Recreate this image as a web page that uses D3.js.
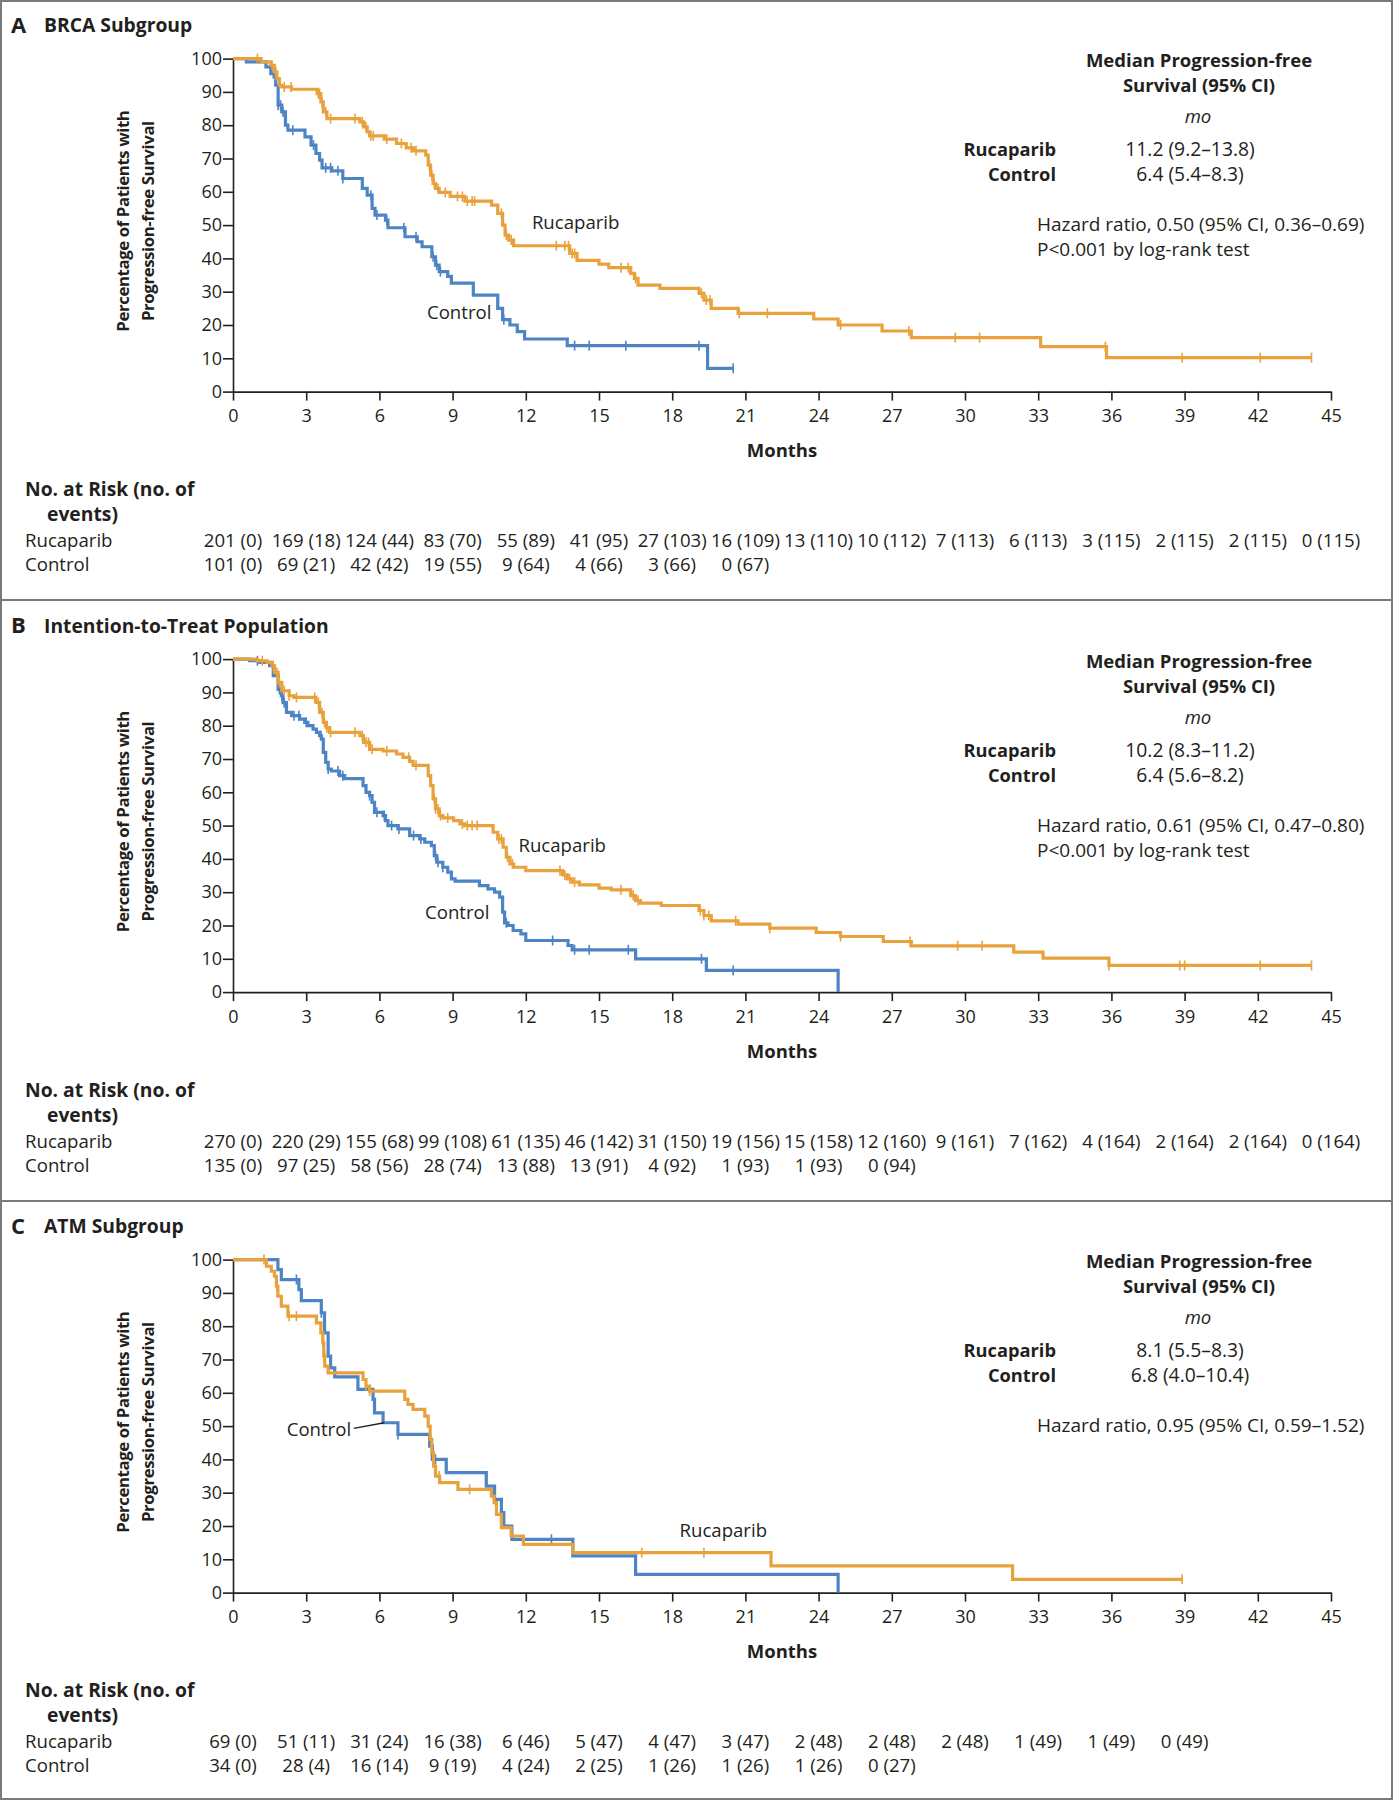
<!DOCTYPE html>
<html><head><meta charset="utf-8">
<script src="https://cdn.jsdelivr.net/npm/d3@7"></script>
<style>
body{margin:0;background:#fff}
text{font-family:"Open Sans",sans-serif;fill:#231f20}
</style>
</head><body>
<svg id="chart" width="1393" height="1800"></svg>
<script>
// ---------- shared ticks ----------
const monthTicks = d3.range(0, 46, 3);
const pctTicks = d3.range(0, 101, 10);
const riskMonths = d3.range(0, 46, 3);

// ---------- Panel A: BRCA subgroup ----------
const brcaRucaparibSteps = [[0,100],[1.15,99],[1.55,98],[1.7,96],[1.8,94],[1.9,92],[2.0,91.5],[2.4,90.8],[3.45,89.5],[3.6,87],[3.7,84],[3.85,82],[5.2,81],[5.35,79.5],[5.5,78],[5.6,76.8],[6.2,75.8],[6.7,74.5],[7.1,73.2],[7.4,72.3],[7.9,71],[8.0,68],[8.1,65],[8.2,62.5],[8.3,61],[8.45,59.8],[8.9,58.6],[9.5,57.2],[10.6,56],[10.85,53.5],[11.05,50],[11.15,47],[11.3,45.5],[11.5,43.8],[13.8,41.5],[14.1,39.4],[15.0,38.3],[15.4,37.2],[16.3,35.5],[16.45,34],[16.6,32],[17.5,31],[19.1,29.5],[19.3,27.5],[19.6,25],[20.7,23.5],[23.8,21.8],[24.8,20],[26.6,18.2],[27.8,16.2],[33.1,13.5],[35.8,10.2],[44.2,10.2]];
const brcaRucaparibCensor = [1.0,1.6,1.75,2.1,2.38,3.5,3.55,3.65,3.8,4.0,5.0,5.3,5.45,5.65,5.75,6.3,6.9,7.3,7.5,8.05,8.15,8.25,8.4,8.7,9.2,9.4,9.6,9.8,9.9,11.0,11.2,11.4,13.25,13.6,13.75,13.9,14.0,15.9,16.2,16.5,19.2,19.4,19.55,20.75,21.9,24.9,27.7,29.6,30.6,35.75,38.9,42.1,44.2];
const brcaControlSteps = [[0,100],[0.55,99],[1.35,97.5],[1.55,95.5],[1.75,92],[1.85,86],[2.0,84],[2.15,80],[2.25,78.5],[2.95,76.5],[3.2,74],[3.4,71.5],[3.55,69.5],[3.65,67.2],[4.05,66.3],[4.5,64],[5.3,61],[5.5,59],[5.7,55],[5.82,53],[6.25,51.5],[6.35,49.2],[7.05,46.5],[7.55,45],[7.75,43.5],[8.15,40.5],[8.3,38],[8.45,36],[8.8,34.6],[8.95,32.6],[9.85,29],[10.85,25],[11.05,21.6],[11.35,20],[11.65,18],[11.95,15.8],[13.7,13.8],[19.45,7],[20.5,7]];
const brcaControlCensor = [1.65,1.85,1.95,2.05,2.45,3.3,3.8,4.0,4.3,4.5,5.65,5.9,6.3,7.0,7.5,8.2,8.35,8.5,11.1,14.0,14.6,16.1,19.1,20.5];
const brcaRiskRucaparib = ["201 (0)","169 (18)","124 (44)","83 (70)","55 (89)","41 (95)","27 (103)","16 (109)","13 (110)","10 (112)","7 (113)","6 (113)","3 (115)","2 (115)","2 (115)","0 (115)"];
const brcaRiskControl = ["101 (0)","69 (21)","42 (42)","19 (55)","9 (64)","4 (66)","3 (66)","0 (67)"];
const brcaMedians = ["11.2 (9.2\u201313.8)","6.4 (5.4\u20138.3)"];
const brcaStats = ["Hazard ratio, 0.50 (95% CI, 0.36\u20130.69)","P<0.001 by log-rank test"];

// ---------- Panel B: intention-to-treat ----------
const ittRucaparibSteps = [[0,100],[1.0,99.5],[1.4,99],[1.6,98],[1.7,96],[1.85,93],[2.0,90.5],[2.3,89],[2.5,88.5],[3.4,87],[3.55,84],[3.7,81],[3.83,79.4],[3.96,78],[5.2,77],[5.35,75],[5.6,72.9],[6.15,72.4],[6.7,71.5],[6.97,70.5],[7.24,69.3],[7.38,68.1],[8.0,65],[8.1,62],[8.2,58],[8.3,55],[8.45,53],[8.6,52.3],[9.04,51.5],[9.3,50.5],[9.5,50],[10.66,48],[10.85,46],[11.07,43.5],[11.2,40.5],[11.35,38.5],[11.5,37.5],[12.0,36.5],[13.5,35.2],[13.7,34],[13.9,33],[14.2,32.2],[15.0,31.2],[15.5,30.7],[16.3,29],[16.5,27.5],[16.7,26.7],[17.55,26],[19.1,24.5],[19.3,23],[19.6,21.4],[20.7,20.4],[22.0,19.2],[23.9,17.9],[24.9,16.7],[26.65,15.2],[27.8,13.9],[32.0,12.0],[33.2,10.2],[35.9,8.0],[44.2,8.0]];
const ittRucaparibCensor = [1.2,1.65,1.8,1.9,2.1,2.3,2.6,3.35,3.5,3.65,3.75,3.85,4.0,5.0,5.3,5.45,5.55,5.7,6.3,7.2,7.5,8.25,8.3,8.4,8.5,8.8,9.4,9.6,9.8,10.0,10.9,11.0,11.25,11.45,13.4,13.6,13.8,14.0,15.9,16.4,16.6,19.15,19.3,19.5,20.6,22.0,24.9,27.75,29.7,30.7,35.9,38.8,39.0,42.1,44.2];
const ittControlSteps = [[0,100],[0.68,99.5],[1.1,99],[1.5,98],[1.65,95],[1.85,90.9],[1.98,89],[2.05,86.9],[2.19,84],[2.4,83],[2.73,82],[2.94,81],[3.07,80],[3.28,79],[3.42,78],[3.55,77],[3.62,76],[3.7,72],[3.8,69],[3.9,67],[4.03,66.4],[4.37,65],[4.58,64.1],[5.33,62],[5.45,60],[5.6,59],[5.7,57],[5.8,54],[6.15,53],[6.25,51.5],[6.35,50],[6.76,49],[7.24,47],[7.65,46],[7.86,45],[8.13,44],[8.25,41],[8.35,39],[8.6,37.5],[8.8,36],[8.95,34],[9.1,33.3],[10.1,32],[10.45,31],[10.72,30],[10.93,28.5],[11.05,24],[11.13,20.8],[11.27,20],[11.48,18.5],[11.8,17.5],[12.0,15.5],[13.73,14],[13.9,12.7],[16.5,10.0],[19.4,6.5],[24.8,0],[24.8,0]];
const ittControlCensor = [1.0,1.9,2.0,2.1,2.5,2.7,3.0,3.6,3.9,4.3,4.5,5.6,5.9,6.2,6.5,6.8,7.4,7.7,8.3,8.4,8.6,11.2,13.1,14.0,14.6,16.2,19.2,20.5];
const ittRiskRucaparib = ["270 (0)","220 (29)","155 (68)","99 (108)","61 (135)","46 (142)","31 (150)","19 (156)","15 (158)","12 (160)","9 (161)","7 (162)","4 (164)","2 (164)","2 (164)","0 (164)"];
const ittRiskControl = ["135 (0)","97 (25)","58 (56)","28 (74)","13 (88)","13 (91)","4 (92)","1 (93)","1 (93)","0 (94)"];
const ittMedians = ["10.2 (8.3\u201311.2)","6.4 (5.6\u20138.2)"];
const ittStats = ["Hazard ratio, 0.61 (95% CI, 0.47\u20130.80)","P<0.001 by log-rank test"];

// ---------- Panel C: ATM subgroup ----------
const atmRucaparibSteps = [[0,100],[1.37,98],[1.57,96.5],[1.7,95],[1.78,92],[1.84,89],[1.98,86],[2.25,83],[3.42,81],[3.6,78],[3.68,75],[3.72,71],[3.76,68],[3.9,66],[5.33,64],[5.45,62],[5.6,60.5],[7.04,58],[7.17,56.5],[7.38,55],[7.86,53],[8.0,50],[8.08,46],[8.15,42],[8.22,38],[8.3,35],[8.47,33],[9.22,31],[10.59,29],[10.7,27],[10.8,23.5],[11.0,19.5],[11.4,17],[11.9,14.5],[13.93,12],[22.05,8],[31.95,4],[38.9,4]];
const atmRucaparibCensor = [1.27,1.8,2.3,2.6,3.7,3.75,5.45,5.6,8.45,9.7,16.75,19.3,38.9];
const atmControlSteps = [[0,100],[1.84,97],[1.98,94],[2.7,91],[2.8,87.7],[3.62,84],[3.75,78],[3.9,71],[4.0,67.5],[4.17,64.8],[5.12,61],[5.74,58],[5.8,54],[6.15,51],[6.76,47.5],[8.06,44],[8.17,40],[8.74,36],[10.38,32],[10.72,28],[11.0,24],[11.1,20],[11.43,16],[13.93,11],[16.5,5.5],[24.8,0],[24.8,0]];
const atmControlCensor = [2.6,3.62,6.76,8.3,13.05];
const atmRiskRucaparib = ["69 (0)","51 (11)","31 (24)","16 (38)","6 (46)","5 (47)","4 (47)","3 (47)","2 (48)","2 (48)","2 (48)","1 (49)","1 (49)","0 (49)"];
const atmRiskControl = ["34 (0)","28 (4)","16 (14)","9 (19)","4 (24)","2 (25)","1 (26)","1 (26)","1 (26)","0 (27)"];
const atmMedians = ["8.1 (5.5\u20138.3)","6.8 (4.0\u201310.4)"];
const atmStats = ["Hazard ratio, 0.95 (95% CI, 0.59\u20131.52)"];

// ---------- panel specs ----------
const panels = [
  {letter:"A", title:"BRCA Subgroup", top:0,
   ruca:brcaRucaparibSteps, rucaC:brcaRucaparibCensor, ctrl:brcaControlSteps, ctrlC:brcaControlCensor,
   riskR:brcaRiskRucaparib, riskC:brcaRiskControl, med:brcaMedians, stats:brcaStats,
   rLab:{m:12.25,p:50.7}, cLab:{m:7.95,p:23.9}},
  {letter:"B", title:"Intention-to-Treat Population", top:600.5,
   ruca:ittRucaparibSteps, rucaC:ittRucaparibCensor, ctrl:ittControlSteps, ctrlC:ittControlCensor,
   riskR:ittRiskRucaparib, riskC:ittRiskControl, med:ittMedians, stats:ittStats,
   rLab:{m:11.7,p:44.1}, cLab:{m:7.87,p:24}},
  {letter:"C", title:"ATM Subgroup", top:1201,
   ruca:atmRucaparibSteps, rucaC:atmRucaparibCensor, ctrl:atmControlSteps, ctrlC:atmControlCensor,
   riskR:atmRiskRucaparib, riskC:atmRiskControl, med:atmMedians, stats:atmStats,
   rLab:{m:18.3,p:18.8}, cLab:{m:2.2,p:49, leader:[[4.95,49.3],[6.2,51]]}}
];

const ORANGE = "#E9A13B", BLUE = "#4D84C6", INK = "#231f20";
const FS = 18.6;
const svg = d3.select("#chart");
svg.append("rect").attr("width",1393).attr("height",1800).attr("fill","#fff");

function valueAt(steps, t){
  let v = steps[0][1];
  for (const s of steps){ if (s[0] <= t + 1e-9) v = s[1]; else break; }
  return v;
}

panels.forEach(p => {
  const g = svg.append("g").attr("transform", `translate(0,${p.top})`);
  const x = d3.scaleLinear().domain([0,45]).range([233,1331]);
  const y = d3.scaleLinear().domain([0,100]).range([391.6,58.6]);

  // title
  g.append("text").attr("x",11).attr("y",32.5).attr("font-size",22).attr("font-weight",700).text(p.letter);
  g.append("text").attr("x",44).attr("y",32).attr("font-size",19.3).attr("font-weight",700).text(p.title);

  // axes
  const xa = g.append("g").attr("transform",`translate(0,${y(0)})`)
    .call(d3.axisBottom(x).tickValues(monthTicks).tickSize(9).tickSizeOuter(0).tickPadding(9));
  const ya = g.append("g").attr("transform",`translate(${x(0)},0)`)
    .call(d3.axisLeft(y).tickValues(pctTicks).tickSize(10).tickSizeOuter(0).tickPadding(1));
  [xa,ya].forEach(a=>{
    a.attr("font-family",null).attr("font-size",null);
    a.selectAll("path,line").attr("stroke",INK).attr("stroke-width",1.6);
    a.selectAll("text").attr("font-size",18).attr("fill",INK);
  });

  // axis titles
  g.append("text").attr("x",(x(0)+x(45))/2).attr("y",457).attr("text-anchor","middle")
    .attr("font-size",18.5).attr("font-weight",700).text("Months");
  const yc = (y(0)+y(100))/2 - 4;
  g.append("text").attr("transform",`translate(129,${yc}) rotate(-90)`).attr("text-anchor","middle")
    .attr("font-size",16.8).attr("font-weight",700).attr("letter-spacing",-0.4).text("Percentage of Patients with");
  g.append("text").attr("transform",`translate(154,${yc}) rotate(-90)`).attr("text-anchor","middle")
    .attr("font-size",16.8).attr("font-weight",700).attr("letter-spacing",-0.4).text("Progression-free Survival");

  // curves
  const line = d3.line().x(d=>x(d[0])).y(d=>y(d[1])).curve(d3.curveStepAfter);
  const series = [
    {steps:p.ctrl, cens:p.ctrlC, color:BLUE},
    {steps:p.ruca, cens:p.rucaC, color:ORANGE}
  ];
  series.forEach(s=>{
    g.append("path").datum(s.steps).attr("d",line).attr("fill","none")
      .attr("stroke",s.color).attr("stroke-width",3.2).attr("stroke-linejoin","miter");
    g.selectAll(null).data(s.cens).enter().append("line")
      .attr("x1",d=>x(d)).attr("x2",d=>x(d))
      .attr("y1",d=>y(valueAt(s.steps,d))-5).attr("y2",d=>y(valueAt(s.steps,d))+5)
      .attr("stroke",s.color).attr("stroke-width",1.6);
  });

  // curve labels
  g.append("text").attr("x",x(p.rLab.m)).attr("y",y(p.rLab.p)).attr("dy","0.35em")
    .attr("font-size",FS).text("Rucaparib");
  g.append("text").attr("x",x(p.cLab.m)).attr("y",y(p.cLab.p)).attr("dy","0.35em")
    .attr("font-size",FS).text("Control");
  if (p.cLab.leader){
    g.append("line").attr("x1",x(p.cLab.leader[0][0])).attr("y1",y(p.cLab.leader[0][1]))
      .attr("x2",x(p.cLab.leader[1][0])).attr("y2",y(p.cLab.leader[1][1]))
      .attr("stroke",INK).attr("stroke-width",1.4);
  }

  // median block
  g.append("text").attr("x",1199).attr("y",67).attr("text-anchor","middle").attr("font-size",18.5).attr("font-weight",700).text("Median Progression-free");
  g.append("text").attr("x",1199).attr("y",92).attr("text-anchor","middle").attr("font-size",18.5).attr("font-weight",700).text("Survival (95% CI)");
  g.append("text").attr("x",1198).attr("y",123).attr("text-anchor","middle").attr("font-size",FS).attr("font-style","italic").text("mo");
  ["Rucaparib","Control"].forEach((n,i)=>{
    g.append("text").attr("x",1056).attr("y",156+i*25).attr("text-anchor","end").attr("font-size",18.3).attr("font-weight",700).text(n);
    g.append("text").attr("x",1190).attr("y",156+i*25).attr("text-anchor","middle").attr("font-size",19.3).text(p.med[i]);
  });
  p.stats.forEach((s,i)=>{
    g.append("text").attr("x",1037).attr("y",231+i*25).attr("font-size",19).text(s);
  });

  // risk table
  g.append("text").attr("x",25).attr("y",496).attr("font-size",19.3).attr("font-weight",700).text("No. at Risk (no. of");
  g.append("text").attr("x",47).attr("y",521).attr("font-size",19.3).attr("font-weight",700).text("events)");
  g.append("text").attr("x",25).attr("y",547).attr("font-size",FS).text("Rucaparib");
  g.append("text").attr("x",25).attr("y",571).attr("font-size",FS).text("Control");
  g.selectAll(null).data(p.riskR).enter().append("text")
    .attr("x",(d,i)=>x(riskMonths[i])).attr("y",547).attr("text-anchor","middle").attr("font-size",FS).text(d=>d);
  g.selectAll(null).data(p.riskC).enter().append("text")
    .attr("x",(d,i)=>x(riskMonths[i])).attr("y",571).attr("text-anchor","middle").attr("font-size",FS).text(d=>d);
});

// frame and separators
svg.append("rect").attr("x",1).attr("y",1).attr("width",1391).attr("height",1798)
  .attr("fill","none").attr("stroke","#7a7a7a").attr("stroke-width",2);
[600, 1201].forEach(yy=>{
  svg.append("line").attr("x1",0).attr("x2",1393).attr("y1",yy).attr("y2",yy)
    .attr("stroke","#7a7a7a").attr("stroke-width",2);
});
</script>
</body></html>
